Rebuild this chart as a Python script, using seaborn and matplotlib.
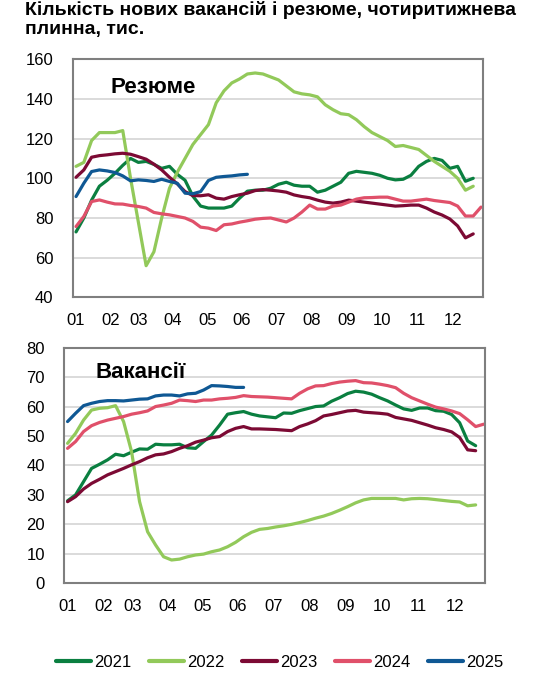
import numpy as np
import pandas as pd
import seaborn as sns
import matplotlib.pyplot as plt

# weekly values, thousands (4-week moving sum)
years = ["2021", "2022", "2023", "2024", "2025"]
colors = ["#0a7f40", "#92c95a", "#7c0a34", "#e0506a", "#0f5894"]
month_labels = ["01", "02", "03", "04", "05", "06", "07", "08", "09", "10", "11", "12"]
month_pos = [0, 4.5, 8.1, 12.45, 16.9, 21.3, 25.8, 30.3, 34.8, 39.3, 43.8, 48.4]

cv_2021 = [73, 80, 89, 96, 99, 102.5, 106.5, 110, 108, 108.5, 107, 105, 106, 102, 99, 91,
           86, 85, 85, 85, 86, 90, 93.5, 94, 94, 95, 97, 98, 96.5, 96, 96, 93, 94, 96, 98,
           102.5, 103.5, 103, 102.5, 101.5, 100, 99.2, 99.5, 101.5, 106, 108.5, 110, 109,
           105, 106, 98.5, 100]
cv_2022 = [106, 108, 119, 123, 123, 123, 124, 100, 78, 56, 63, 80, 95, 103, 110, 117,
           122, 127, 138, 144, 148, 150, 152.5, 153, 152.5, 151, 149.5, 146.5, 143.5, 142.5,
           142, 141, 137, 134.5, 132.5, 132, 129.5, 126, 123, 121, 119, 116, 116.5, 115.5,
           114.5, 111.5, 108.5, 106, 103.5, 100, 94, 96]
cv_2023 = [100.5, 104.2, 110.6, 111.4, 111.8, 112.3, 112.6, 112.1, 110.9, 109.6, 107.1, 104.2,
           100.5, 97.2, 93.3, 91.3, 91.2, 91.7, 90, 89.5, 90.8, 91.7, 92.5, 93.8, 94.3, 94,
           93.6, 93, 91.6, 90.8, 90.2, 89, 88, 87.5, 88, 89, 88.5, 88, 87.5, 87, 86.5, 86,
           86.2, 86.5, 86.5, 85, 83, 81.5, 79.5, 76, 70, 72]
cv_2024 = [75.7, 80.8, 88.3, 89.1, 88, 87.1, 87, 86.3, 85.8, 85, 82.8, 82.1, 81.6, 80.8, 80,
           78.3, 75.4, 74.9, 73.7, 76.6, 77, 77.9, 78.6, 79.4, 79.8, 80, 79, 78, 80, 83, 86.5,
           84.5, 84.5, 86, 86.5, 88, 89.5, 90.2, 90.3, 90.5, 90.5, 89.5, 88.5, 88.5, 89, 89.5,
           88.8, 88.3, 87.8, 86, 81, 81, 85.5]
cv_2025 = [90.8, 97.5, 103.4, 104.2, 103.7, 102.9, 101.2, 98.7, 99.2, 98.9, 98.4, 99.5, 98.4,
           97.5, 92.5, 92.2, 93.3, 98.9, 100.5, 100.9, 101.2, 101.7, 102]

vac_2021 = [28, 30, 34.5, 39, 40.4, 41.9, 43.8, 43.3, 44.5, 45.6, 45.5, 47.2, 47, 47, 47.2,
            46, 45.8, 48.1, 50.3, 53.7, 57.4, 57.9, 58.3, 57.4, 56.8, 56.5, 56.2, 57.8, 57.7,
            58.6, 59.3, 60, 60.2, 61.8, 63, 64.4, 65.2, 64.9, 64.2, 63, 61.9, 60.5, 59.2, 58.7,
            59.5, 59.5, 58.6, 58.4, 57.3, 54.5, 48.3, 46.7]
vac_2022 = [47.5, 50.9, 55.4, 58.8, 59.4, 59.6, 60.3, 54.9, 44.7, 27.7, 17.5, 13, 9, 7.9, 8.2,
            9, 9.6, 9.9, 10.7, 11.3, 12.4, 13.9, 15.8, 17.3, 18.3, 18.6, 19.1, 19.5, 20, 20.6,
            21.3, 22.1, 22.8, 23.7, 24.8, 26, 27.3, 28.3, 28.8, 28.8, 28.8, 28.8, 28.3, 28.7,
            28.8, 28.7, 28.4, 28.1, 27.8, 27.6, 26.3, 26.6]
vac_2023 = [27.7, 29.4, 32, 33.9, 35.3, 36.8, 37.9, 39, 40.2, 41.3, 42.6, 43.6, 43.9, 44.7,
            45.8, 46.7, 47.9, 48.6, 49.4, 49.8, 51.5, 52.6, 53.2, 52.4, 52.4, 52.3, 52.2, 52,
            51.8, 53.2, 54.1, 55.2, 56.8, 57.3, 57.9, 58.5, 58.7, 58.1, 57.9, 57.7, 57.4, 56.3,
            55.8, 55.3, 54.5, 53.7, 52.8, 52.2, 51.4, 49.5, 45.3, 45]
vac_2024 = [45.8, 48.1, 51.5, 53.5, 54.6, 55.4, 56, 56.6, 57.4, 57.9, 58.5, 60, 60.5, 61.1,
            62.2, 62, 61.7, 62.2, 62.2, 62.6, 62.8, 63.1, 63.7, 63.4, 63.3, 63.2, 63, 62.8,
            62.6, 64.5, 66, 67, 67.1, 67.8, 68.3, 68.6, 68.8, 68.1, 68, 67.6, 67.1, 66.4, 64.5,
            63, 61.9, 60.8, 59.8, 59.2, 58.5, 57.6, 55.5, 53.2, 54]
vac_2025 = [54.9, 57.7, 60.3, 61.1, 61.7, 62, 62, 61.9, 62.2, 62.5, 62.6, 63.6, 63.9, 63.9,
            63.6, 64.3, 64.5, 65.6, 67.1, 67, 66.8, 66.5, 66.5]


def to_long(series):
    rows = []
    for yr, vals in zip(years, series):
        for w, v in enumerate(vals):
            rows.append({"week": w, "year": yr, "value": v})
    return pd.DataFrame(rows)


cv = to_long([cv_2021, cv_2022, cv_2023, cv_2024, cv_2025])
vac = to_long([vac_2021, vac_2022, vac_2023, vac_2024, vac_2025])

sns.set_style("white")
plt.rcParams["font.family"] = ["Liberation Sans", "DejaVu Sans"]
plt.rcParams["text.color"] = "black"
palette = dict(zip(years, colors))

fig = plt.figure(figsize=(5.35, 6.87), dpi=100)
ax1 = fig.add_axes([0.136, 0.567, 0.766, 0.347])
ax2 = fig.add_axes([0.120, 0.151, 0.787, 0.343])


def style(ax, ylim, step, label, label_xy):
    ax.set_xlim(-0.42, 52.2)
    ax.set_ylim(*ylim)
    ax.set_yticks(np.arange(ylim[0], ylim[1] + 1, step))
    ax.set_xticks(month_pos)
    ax.set_xticklabels(month_labels)
    ax.grid(axis="y", color="#d4d4d4", linewidth=1.2)
    ax.set_axisbelow(True)
    for s in ax.spines.values():
        s.set_color("#7f7f7f")
        s.set_linewidth(1.5)
    ax.tick_params(axis="y", length=3, width=1, color="#7f7f7f", labelcolor="black",
                   pad=11, labelsize=12)
    ax.tick_params(axis="x", length=0, pad=11, labelsize=12, labelcolor="black")
    ax.set_xlabel("")
    ax.set_ylabel("")
    ax.text(label_xy[0], label_xy[1], label, transform=ax.transAxes, color="black",
            fontsize=16, fontweight="bold", va="center", ha="left")


sns.lineplot(data=cv, x="week", y="value", hue="year", palette=palette,
             linewidth=2.3, ax=ax1, legend=False)
sns.lineplot(data=vac, x="week", y="value", hue="year", palette=palette,
             linewidth=2.3, ax=ax2, legend=True)

style(ax1, (40, 160), 20, "Резюме", (0.092, 0.88))
style(ax2, (0, 80), 10, "Вакансії", (0.075, 0.895))

handles, labels = ax2.get_legend_handles_labels()
ax2.get_legend().remove()
for h in handles:
    h.set_linewidth(3)
fig.legend(handles, labels, loc="center", bbox_to_anchor=(0.523, 0.0354), ncol=5,
           frameon=False, fontsize=12, handlelength=2.1, handletextpad=0.2,
           columnspacing=1.05, labelcolor="black")

fig.text(0.047, 0.998, "Кількість нових вакансій і резюме, чотиритижнева\nплинна, тис.",
         fontsize=14, fontweight="bold", va="top", ha="left", linespacing=1.1,
         color="black")

fig.savefig("out.png", dpi=100)
